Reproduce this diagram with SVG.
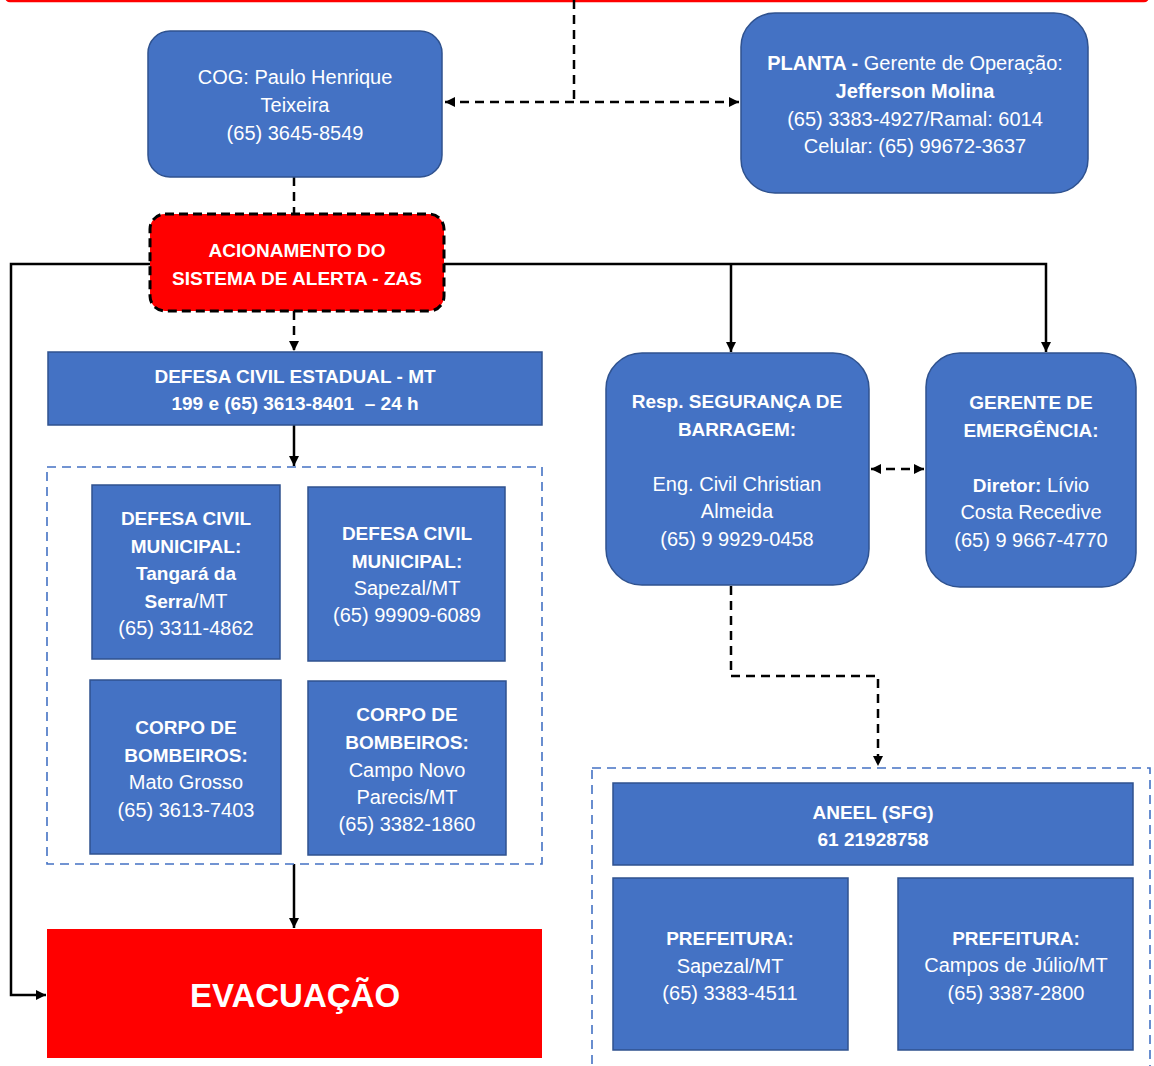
<svg xmlns="http://www.w3.org/2000/svg" width="1154" height="1066" viewBox="0 0 1154 1066">
<style>
.box{fill:#4472C4;stroke:#2F528F;stroke-width:1.5}
.cont{fill:none;stroke:#4472C4;stroke-width:1.6;stroke-dasharray:9 6}
.t{font-family:"Liberation Sans",Arial,sans-serif;font-size:20px;fill:#fff;text-anchor:middle}
.b{font-weight:bold;font-size:19px}
.solid{fill:none;stroke:#000;stroke-width:2.5}
.dash{fill:none;stroke:#000;stroke-width:2.5;stroke-dasharray:9 6}
</style>
<defs>
<marker id="ah" viewBox="0 0 10 10" refX="10" refY="5" markerWidth="4" markerHeight="4" orient="auto" markerUnits="strokeWidth">
<path d="M0,0 L10,5 L0,10 z" fill="#000"/>
</marker>
<marker id="ahs" viewBox="0 0 10 10" refX="0" refY="5" markerWidth="4" markerHeight="4" orient="auto" markerUnits="strokeWidth">
<path d="M10,0 L0,5 L10,10 z" fill="#000"/>
</marker>
</defs>
<rect width="1154" height="1066" fill="#fff"/>
<g id="top-frame"><rect x="6" y="-30" width="1142" height="31" rx="4" fill="none" stroke="#FF0000" stroke-width="2.5"/></g>
<g id="connectors">
<path class="dash" d="M574,0 V102"/>
<path class="dash" d="M445,102 H739" marker-start="url(#ahs)" marker-end="url(#ah)"/>
<path class="dash" d="M294,177 V214"/>
<path class="dash" d="M294,311 V351" marker-end="url(#ah)"/>
<path class="solid" d="M150,264 H11 V995 H46" marker-end="url(#ah)"/>
<path class="solid" d="M444,264 H1046 V352" marker-end="url(#ah)"/>
<path class="solid" d="M731,264 V352" marker-end="url(#ah)"/>
<path class="solid" d="M294,425 V466" marker-end="url(#ah)"/>
<path class="solid" d="M294,864 V928" marker-end="url(#ah)"/>
<path class="dash" d="M871,469 H924" marker-start="url(#ahs)" marker-end="url(#ah)"/>
<path class="dash" d="M731,586 V676 H878 V766" marker-end="url(#ah)"/>
</g>
<g id="cog"><rect class="box" x="148" y="31" width="294" height="146" rx="22"/>
<text class="t" x="295" y="84">COG: Paulo Henrique</text>
<text class="t" x="295" y="112">Teixeira</text>
<text class="t" x="295" y="140">(65) 3645-8549</text></g>
<g id="planta"><rect class="box" x="741" y="13" width="347" height="180" rx="34"/>
<text class="t" x="915" y="70"><tspan font-weight="bold">PLANTA - </tspan>Gerente de Operação:</text>
<text class="t b" x="915" y="98" style="font-size:20px">Jefferson Molina</text>
<text class="t" x="915" y="126">(65) 3383-4927/Ramal: 6014</text>
<text class="t" x="915" y="153">Celular: (65) 99672-3637</text></g>
<g id="acionamento"><rect x="150" y="214" width="294" height="97" rx="15" fill="#FF0000" stroke="#000" stroke-width="3" stroke-dasharray="9 5"/>
<text class="t b" x="297" y="257">ACIONAMENTO DO</text>
<text class="t b" x="297" y="285">SISTEMA DE ALERTA - ZAS</text></g>
<g id="defesa-estadual"><rect class="box" x="48" y="352" width="494" height="73"/>
<text class="t b" x="295" y="383">DEFESA CIVIL ESTADUAL - MT</text>
<text class="t b" x="295" y="410" xml:space="preserve">199 e (65) 3613-8401  – 24 h</text></g>
<g id="container-left"><rect class="cont" x="47" y="467" width="495" height="397"/></g>
<g id="dcm-tangara"><rect class="box" x="92" y="485" width="188" height="174"/>
<text class="t b" x="186" y="525">DEFESA CIVIL</text>
<text class="t b" x="186" y="553">MUNICIPAL:</text>
<text class="t b" x="186" y="580">Tangará da</text>
<text class="t" x="186" y="608"><tspan font-weight="bold" font-size="19">Serra</tspan>/MT</text>
<text class="t" x="186" y="635">(65) 3311-4862</text></g>
<g id="dcm-sapezal"><rect class="box" x="308" y="487" width="197" height="174"/>
<text class="t b" x="407" y="540">DEFESA CIVIL</text>
<text class="t b" x="407" y="568">MUNICIPAL:</text>
<text class="t" x="407" y="595">Sapezal/MT</text>
<text class="t" x="407" y="622">(65) 99909-6089</text></g>
<g id="bombeiros-mt"><rect class="box" x="90" y="680" width="191" height="174"/>
<text class="t b" x="186" y="734">CORPO DE</text>
<text class="t b" x="186" y="762">BOMBEIROS:</text>
<text class="t" x="186" y="789">Mato Grosso</text>
<text class="t" x="186" y="817">(65) 3613-7403</text></g>
<g id="bombeiros-cnp"><rect class="box" x="308" y="681" width="198" height="174"/>
<text class="t b" x="407" y="721">CORPO DE</text>
<text class="t b" x="407" y="749">BOMBEIROS:</text>
<text class="t" x="407" y="777">Campo Novo</text>
<text class="t" x="407" y="804">Parecis/MT</text>
<text class="t" x="407" y="831">(65) 3382-1860</text></g>
<g id="evacuacao"><rect x="47" y="929" width="495" height="129" fill="#FF0000"/>
<text class="t" x="295" y="1007" style="font-size:33px;font-weight:bold">EVACUAÇÃO</text></g>
<g id="resp-seguranca"><rect class="box" x="606" y="353" width="263" height="232" rx="36"/>
<text class="t b" x="737" y="408">Resp. SEGURANÇA DE</text>
<text class="t b" x="737" y="436">BARRAGEM:</text>
<text class="t" x="737" y="491">Eng. Civil Christian</text>
<text class="t" x="737" y="518">Almeida</text>
<text class="t" x="737" y="546">(65) 9 9929-0458</text></g>
<g id="gerente-emergencia"><rect class="box" x="926" y="353" width="210" height="234" rx="34"/>
<text class="t b" x="1031" y="409">GERENTE DE</text>
<text class="t b" x="1031" y="437">EMERGÊNCIA:</text>
<text class="t" x="1031" y="492"><tspan font-weight="bold" font-size="19">Diretor:</tspan> Lívio</text>
<text class="t" x="1031" y="519">Costa Recedive</text>
<text class="t" x="1031" y="547">(65) 9 9667-4770</text></g>
<g id="container-right"><rect class="cont" x="592" y="768" width="558" height="310"/></g>
<g id="aneel"><rect class="box" x="613" y="783" width="520" height="82"/>
<text class="t b" x="873" y="819">ANEEL (SFG)</text>
<text class="t b" x="873" y="846">61 21928758</text></g>
<g id="prefeitura-sapezal"><rect class="box" x="613" y="878" width="235" height="172"/>
<text class="t b" x="730" y="945">PREFEITURA:</text>
<text class="t" x="730" y="973">Sapezal/MT</text>
<text class="t" x="730" y="1000">(65) 3383-4511</text></g>
<g id="prefeitura-campos"><rect class="box" x="898" y="878" width="235" height="172"/>
<text class="t b" x="1016" y="945">PREFEITURA:</text>
<text class="t" x="1016" y="972">Campos de Júlio/MT</text>
<text class="t" x="1016" y="1000">(65) 3387-2800</text></g>
</svg>
